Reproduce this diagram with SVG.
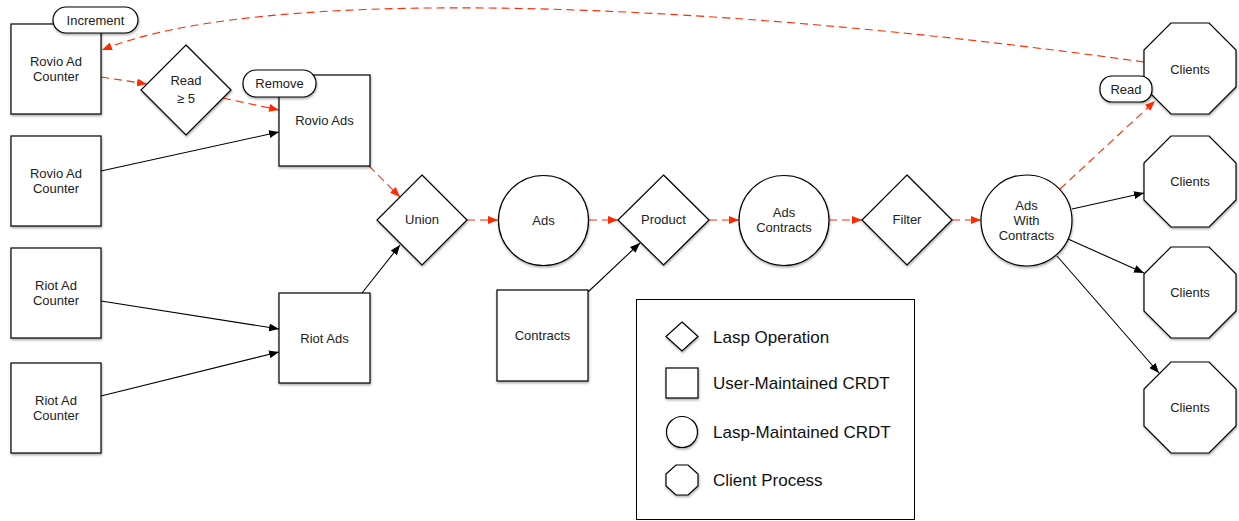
<svg xmlns="http://www.w3.org/2000/svg" width="1239" height="521" viewBox="0 0 1239 521">
<style>
.n{fill:#fff;stroke:#000;stroke-width:1.2;filter:url(#sh)}
.t{font-family:"Liberation Sans",Arial,sans-serif;font-size:13px;fill:#222;text-anchor:middle}
.lg{font-family:"Liberation Sans",Arial,sans-serif;font-size:17px;fill:#111}
.k{fill:none;stroke:#000;stroke-width:1.1;marker-end:url(#ak)}
.r{fill:none;stroke:#ff2a00;stroke-width:1.1;stroke-dasharray:8 5;marker-end:url(#ar)}
</style>
<defs>
<filter id="sh" x="-10%" y="-10%" width="130%" height="130%">
<feDropShadow dx="0.5" dy="1.5" stdDeviation="1" flood-color="#000" flood-opacity="0.35"/>
</filter>
<marker id="ak" viewBox="0 0 10 8" refX="10" refY="4" markerWidth="10" markerHeight="8" markerUnits="userSpaceOnUse" orient="auto">
<path d="M0,0 L10,4 L0,8 Z" fill="#000"/>
</marker>
<marker id="ar" viewBox="0 0 10 8" refX="10" refY="4" markerWidth="10" markerHeight="8" markerUnits="userSpaceOnUse" orient="auto">
<path d="M0,0 L10,4 L0,8 Z" fill="#ff2a00"/>
</marker>
</defs>
<rect width="1239" height="521" fill="#fff"/>

<g id="connectors">
<path class="r" d="M1144,62 C700,0 260,-15 102,50"/>
<path class="r" d="M101,77 L147,84"/>
<path class="r" d="M223,98 L279,110"/>
<path class="k" d="M101,171 L279,132"/>
<path class="r" d="M369,166 L400,197"/>
<path class="k" d="M101,301 L279,329"/>
<path class="k" d="M101,396 L279,352"/>
<path class="k" d="M362,293 L400,245"/>
<path class="r" d="M467,220 L498,220"/>
<path class="r" d="M589,220 L618,220"/>
<path class="k" d="M588,292 L640,243"/>
<path class="r" d="M709,220 L739,220"/>
<path class="r" d="M829,220 L862,220"/>
<path class="r" d="M952,220 L981,220"/>
<path class="r" d="M1060,189 L1155,101"/>
<path class="k" d="M1072,209 L1144,193"/>
<path class="k" d="M1068,239 L1144,273"/>
<path class="k" d="M1057,256 L1159,373"/>
</g>

<g id="rovio-counter-1">
<rect class="n" x="11" y="24" width="90" height="90"/>
<text class="t" x="56" y="66">Rovio Ad</text>
<text class="t" x="56" y="81">Counter</text>
</g>
<g id="increment-label">
<rect class="n" x="53" y="7" width="85" height="26" rx="13"/>
<text class="t" x="95.5" y="25">Increment</text>
</g>
<g id="rovio-counter-2">
<rect class="n" x="11" y="136" width="90" height="90"/>
<text class="t" x="56" y="178">Rovio Ad</text>
<text class="t" x="56" y="193">Counter</text>
</g>
<g id="riot-counter-1">
<rect class="n" x="11" y="248" width="90" height="90"/>
<text class="t" x="56" y="290">Riot Ad</text>
<text class="t" x="56" y="305">Counter</text>
</g>
<g id="riot-counter-2">
<rect class="n" x="11" y="363" width="90" height="90"/>
<text class="t" x="56" y="405">Riot Ad</text>
<text class="t" x="56" y="420">Counter</text>
</g>
<g id="read-filter">
<polygon class="n" points="186,45 231,90 186,135 141,90"/>
<text class="t" x="186" y="85">Read</text>
<text class="t" x="186" y="103">≥ 5</text>
</g>
<g id="rovio-ads">
<rect class="n" x="279" y="75" width="91" height="91"/>
<text class="t" x="324.5" y="125">Rovio Ads</text>
</g>
<g id="remove-label">
<rect class="n" x="243" y="70" width="73" height="27" rx="13"/>
<text class="t" x="279.5" y="88">Remove</text>
</g>
<g id="riot-ads">
<rect class="n" x="279" y="293" width="91" height="90"/>
<text class="t" x="324.5" y="343">Riot Ads</text>
</g>
<g id="union">
<polygon class="n" points="422,175 467,220 422,265 377,220"/>
<text class="t" x="422" y="224">Union</text>
</g>
<g id="ads">
<circle class="n" cx="543.5" cy="220.5" r="45"/>
<text class="t" x="543.5" y="225">Ads</text>
</g>
<g id="contracts">
<rect class="n" x="497" y="290" width="91" height="91"/>
<text class="t" x="542.5" y="340">Contracts</text>
</g>
<g id="product">
<polygon class="n" points="663.5,175 709,220 663.5,265 618,220"/>
<text class="t" x="663.5" y="224">Product</text>
</g>
<g id="ads-contracts">
<circle class="n" cx="784" cy="220.5" r="45"/>
<text class="t" x="784" y="217">Ads</text>
<text class="t" x="784" y="232">Contracts</text>
</g>
<g id="filter">
<polygon class="n" points="907,175 952,220 907,265 862,220"/>
<text class="t" x="907" y="224">Filter</text>
</g>
<g id="ads-with-contracts">
<circle class="n" cx="1026.5" cy="220.5" r="45.5"/>
<text class="t" x="1026.5" y="210">Ads</text>
<text class="t" x="1026.5" y="225">With</text>
<text class="t" x="1026.5" y="240">Contracts</text>
</g>
<g id="clients-1">
<polygon class="n" points="1171,23 1209,23 1236,50 1236,87 1209,114 1171,114 1144,87 1144,50"/>
<text class="t" x="1190" y="74">Clients</text>
</g>
<g id="read-label">
<rect class="n" x="1100" y="76" width="52" height="26" rx="12"/>
<text class="t" x="1126" y="94">Read</text>
</g>
<g id="clients-2">
<polygon class="n" points="1171,136 1209,136 1236,163 1236,200 1209,227 1171,227 1144,200 1144,163"/>
<text class="t" x="1190" y="186">Clients</text>
</g>
<g id="clients-3">
<polygon class="n" points="1171,247 1209,247 1236,274 1236,311 1209,338 1171,338 1144,311 1144,274"/>
<text class="t" x="1190" y="297">Clients</text>
</g>
<g id="clients-4">
<polygon class="n" points="1171,362 1209,362 1236,389 1236,426 1209,453 1171,453 1144,426 1144,389"/>
<text class="t" x="1190" y="412">Clients</text>
</g>

<g id="legend">
<rect x="636.5" y="299.5" width="278" height="220" fill="#fff" stroke="#000" stroke-width="1"/>
<polygon class="n" points="682,322 698,336.5 682,351 666,336.5"/>
<text class="lg" x="713" y="343">Lasp Operation</text>
<rect class="n" x="666" y="368" width="32" height="30"/>
<text class="lg" x="713" y="389">User-Maintained CRDT</text>
<circle class="n" cx="682" cy="432" r="15.5"/>
<text class="lg" x="713" y="438">Lasp-Maintained CRDT</text>
<polygon class="n" points="676,465 688,465 698,474 698,486 688,495 676,495 666,486 666,474"/>
<text class="lg" x="713" y="486">Client Process</text>
</g>
</svg>
